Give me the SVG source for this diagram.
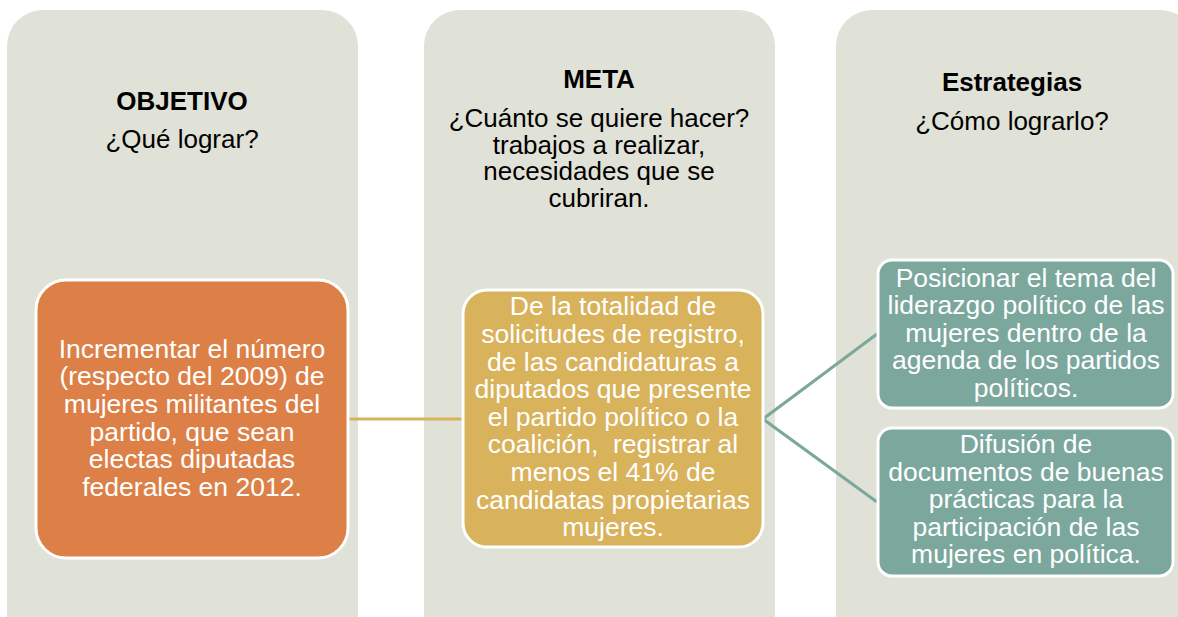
<svg xmlns="http://www.w3.org/2000/svg" width="1178" height="617" viewBox="0 0 1178 617">
<style>
.col{fill:#E0E1D7}
.box{stroke:#FFFFFF;stroke-width:3}
.t{font-family:"Liberation Sans",Arial,sans-serif;text-anchor:middle}
.h{font-size:26px;font-weight:bold;fill:#000}
.q{font-size:26px;fill:#000}
.w{font-size:26.5px;fill:#FFFFFF}
</style>
<rect width="1178" height="617" fill="#FFFFFF"/>
<g id="col-objetivo">
<rect class="col" x="7" y="10" width="351" height="640" rx="36"/>
<text class="t h" x="182" y="110">OBJETIVO</text>
<text class="t q" x="182" y="148">¿Qué lograr?</text>
</g>
<g id="col-meta">
<rect class="col" x="424" y="10" width="351" height="640" rx="36"/>
<text class="t h" x="599" y="88">META</text>
<text class="t q" x="599" y="127">¿Cuánto se quiere hacer?</text>
<text class="t q" x="599" y="154">trabajos a realizar,</text>
<text class="t q" x="599" y="180">necesidades que se</text>
<text class="t q" x="599" y="207">cubriran.</text>
</g>
<g id="col-estrategias">
<rect class="col" x="836" y="10" width="360" height="640" rx="36"/>
<text class="t h" x="1012" y="91">Estrategias</text>
<text class="t q" x="1012" y="130">¿Cómo lograrlo?</text>
</g>
<g id="connectors" fill="none" stroke-width="3">
<line x1="348" y1="419" x2="463" y2="419" stroke="#D9B25C"/>
<polyline points="877,334 763,419 877,502" stroke="#7BA79D"/>
</g>
<g id="node-objetivo">
<rect class="box" x="36" y="280" width="312" height="278" rx="30" fill="#DD8047"/>
<text class="t w" x="192"><tspan x="192" y="358">Incrementar el número</tspan><tspan x="192" y="385">(respecto del 2009) de</tspan><tspan x="192" y="413">mujeres militantes del</tspan><tspan x="192" y="441">partido, que sean</tspan><tspan x="192" y="468">electas diputadas</tspan><tspan x="192" y="496">federales en 2012.</tspan></text>
</g>
<g id="node-meta">
<rect class="box" x="463" y="290" width="300" height="257" rx="24" fill="#D9B25C"/>
<text class="t w" x="613"><tspan x="613" y="315">De la totalidad de</tspan><tspan x="613" y="343">solicitudes de registro,</tspan><tspan x="613" y="371">de las candidaturas a</tspan><tspan x="613" y="398">diputados que presente</tspan><tspan x="613" y="426">el partido político o la</tspan><tspan x="613" y="453" xml:space="preserve">coalición,  registrar al</tspan><tspan x="613" y="481">menos el 41% de</tspan><tspan x="613" y="509">candidatas propietarias</tspan><tspan x="613" y="536">mujeres.</tspan></text>
</g>
<g id="node-estrategia-1">
<rect class="box" x="878" y="260" width="295" height="148" rx="14" fill="#7BA79D"/>
<text class="t w" x="1026"><tspan x="1026" y="287">Posicionar el tema del</tspan><tspan x="1026" y="314">liderazgo político de las</tspan><tspan x="1026" y="342">mujeres dentro de la</tspan><tspan x="1026" y="369">agenda de los partidos</tspan><tspan x="1026" y="397">políticos.</tspan></text>
</g>
<g id="node-estrategia-2">
<rect class="box" x="878" y="428" width="295" height="148" rx="14" fill="#7BA79D"/>
<text class="t w" x="1026"><tspan x="1026" y="453">Difusión de</tspan><tspan x="1026" y="481">documentos de buenas</tspan><tspan x="1026" y="508">prácticas para la</tspan><tspan x="1026" y="536">participación de las</tspan><tspan x="1026" y="563">mujeres en política.</tspan></text>
</g>
</svg>
